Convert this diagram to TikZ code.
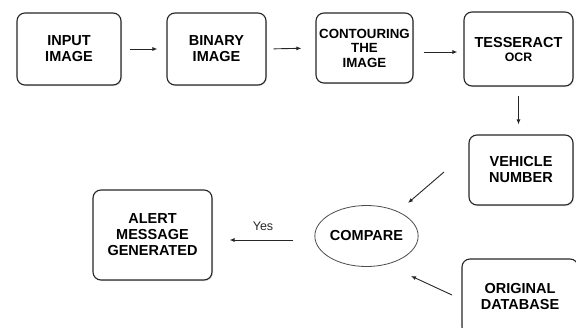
\documentclass[tikz,border=0pt]{standalone}
\usepackage{fontspec}
\setmainfont{Liberation Sans}
\usetikzlibrary{arrows.meta,shapes.geometric,shadows}
\tikzset{
  box/.style={draw=black!85, line width=1.1pt, rounded corners=8pt, fill=white,
    align=center, font=\bfseries\fontsize{14.5}{16}\selectfont,
    inner sep=0pt,
    drop shadow={opacity=0.25, shadow xshift=1pt, shadow yshift=-1pt}},
  oval/.style={ellipse, draw=black!70, line width=0.8pt, fill=white, inner sep=0pt,
    font=\bfseries\fontsize{14.5}{16}\selectfont},
  arr/.style={draw=black!85, line width=0.9pt, -{Latex[length=5pt,width=4pt]}},
  lbl/.style={font=\fontsize{12.5}{14}\selectfont, text=black!85}
}
\begin{document}
\begin{tikzpicture}[x=1pt,y=-1pt]
\useasboundingbox (0,0) rectangle (576,327);
\node[box, minimum width=104pt, minimum height=72pt] (inp) at (69,49) {INPUT\\IMAGE};
\node[box, minimum width=99pt, minimum height=72pt] (bin) at (216.5,49) {BINARY\\IMAGE};
\node[box, minimum width=97pt, minimum height=70pt, font=\bfseries\fontsize{13.3}{14.5}\selectfont] (con) at (364.5,48) {CONTOURING\\THE\\IMAGE};
\node[box, minimum width=109pt, minimum height=74pt] (tes) at (518.5,49) {TESSERACT\\[-2pt]{\fontsize{12.3}{13}\selectfont OCR}};
\node[box, minimum width=104pt, minimum height=70pt] (veh) at (521,170) {VEHICLE\\NUMBER};
\node[oval, minimum width=91pt, minimum height=61pt] (cmp) at (366.5,236) {COMPARE};
\node[box, minimum width=116pt, minimum height=76pt] (db) at (520,297) {ORIGINAL\\DATABASE};
\node[box, minimum width=119pt, minimum height=90pt] (alr) at (152.5,235) {ALERT\\MESSAGE\\GENERATED};

\draw[arr, shorten <=8pt, shorten >=9pt] (inp.east) -- (bin.west);
\draw[arr, shorten <=7pt, shorten >=14pt] (bin.east) -- (con.west);
\draw[arr, shorten <=10pt, shorten >=6pt] (con.east |- tes.west) ++(0,3) coordinate (c3) -- (c3 -| tes.west);
\draw[arr, shorten <=9pt, shorten >=10pt] (tes.south) -- (tes.south |- veh.north);

\coordinate (v1) at (444,172);
\coordinate (v2) at (408,203);
\draw[arr] (v1) -- (v2);
\coordinate (d1) at (452,295);
\coordinate (d2) at (411,276);
\draw[arr] (d1) -- (d2);

\draw[arr, shorten <=21pt, shorten >=17pt] (cmp.west |- 0,240) coordinate (y1) -- (y1 -| alr.east);
\node[lbl] (yes) at (263,226) {Yes};
\end{tikzpicture}
\end{document}
